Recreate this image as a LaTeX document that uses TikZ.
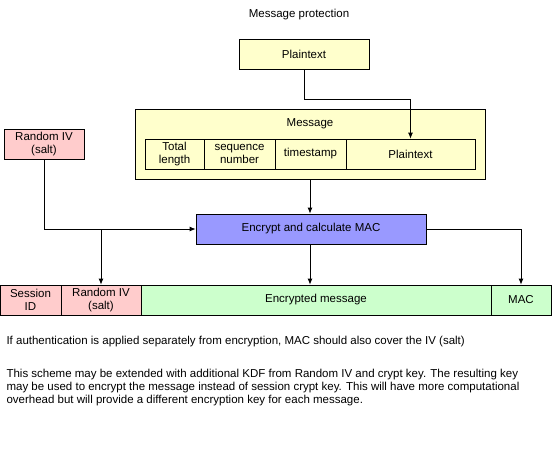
\documentclass[tikz,border=0pt]{standalone}
\usepackage{fontspec}
\setmainfont{Liberation Sans}
\usepackage{xcolor}
\usetikzlibrary{arrows.meta}

\definecolor{plainyellow}{HTML}{FFFFCC}
\definecolor{saltpink}{HTML}{FFCCCC}
\definecolor{cipherGreen}{HTML}{CCFFCC}
\definecolor{encblue}{HTML}{9999FF}

\begin{document}
\begin{tikzpicture}[x=1pt, y=-1pt,
    font=\fontsize{11.5}{13}\selectfont,
    field/.style={draw=black, line width=0.8pt, inner sep=0pt, align=center,
      minimum height=30pt},
    link/.style={line width=0.8pt, -{Latex[length=6pt,width=5pt]}}]
  % fix the page to the picture size
  \useasboundingbox (0,0) rectangle (552,456);

  \node (title) at (299,15) {Message protection};

  % plaintext and message frame
  \node[field, fill=plainyellow, minimum width=130pt] (plain) at (304,54) {Plaintext};
  \node[field, fill=plainyellow, minimum width=350pt, minimum height=70pt] (msg) at (310,144) {};
  \node (msglabel) at (310,124) {Message};
  \node[field, minimum width=59pt] (totlen) at (174.5,154) {Total\\length};
  \node[field, minimum width=71pt] (seqnum) at (239.5,154) {sequence\\number};
  \node[field, minimum width=71pt] (tstamp) at (310.5,154) {timestamp};
  \node[field, minimum width=129pt] (inplain) at (410.5,154) {Plaintext};

  % salt and encryption step
  \node[field, fill=saltpink, minimum width=80pt] (salt) at (44,144) {Random IV\\(salt)};
  \node[field, fill=encblue, minimum width=230pt] (enc) at (311,229) {Encrypt and calculate MAC};

  % output packet
  \node[field, fill=saltpink, minimum width=61pt] (sessid) at (30.5,300) {Session\\ID};
  \node[field, fill=saltpink, minimum width=80pt] (outsalt) at (101,300) {Random IV\\(salt)};
  \node[field, fill=cipherGreen, minimum width=350pt] (cipher) at (316,300) {Encrypted message};
  \node[field, fill=cipherGreen, minimum width=60pt] (mac) at (521,300) {MAC};

  % connectors
  \draw[link] (plain.south) -- ++(0,30) -| (inplain.north);
  \draw[link] (msg.south) -- (msg.south |- enc.north);
  \draw[link] (salt.south) |- (enc.west);
  \coordinate (split) at (outsalt.north |- enc.west);
  \draw[link] (split) -- (outsalt.north);
  \draw[link] (msg.south |- enc.south) -- (msg.south |- cipher.north);
  \draw[link] (enc.east) -| (mac.north);

  % notes
  \node[anchor=west] (note1) at (3,341.5)
    {If authentication is applied separately from encryption, MAC should also cover the IV (salt)};
  \node[anchor=west, align=left] (note2) at (3,388)
    {This scheme may be extended with additional KDF from Random IV and crypt key. The resulting key\\
     may be used to encrypt the message instead of session crypt key. This will have more computational\\
     overhead but will provide a different encryption key for each message.};
\end{tikzpicture}
\end{document}
